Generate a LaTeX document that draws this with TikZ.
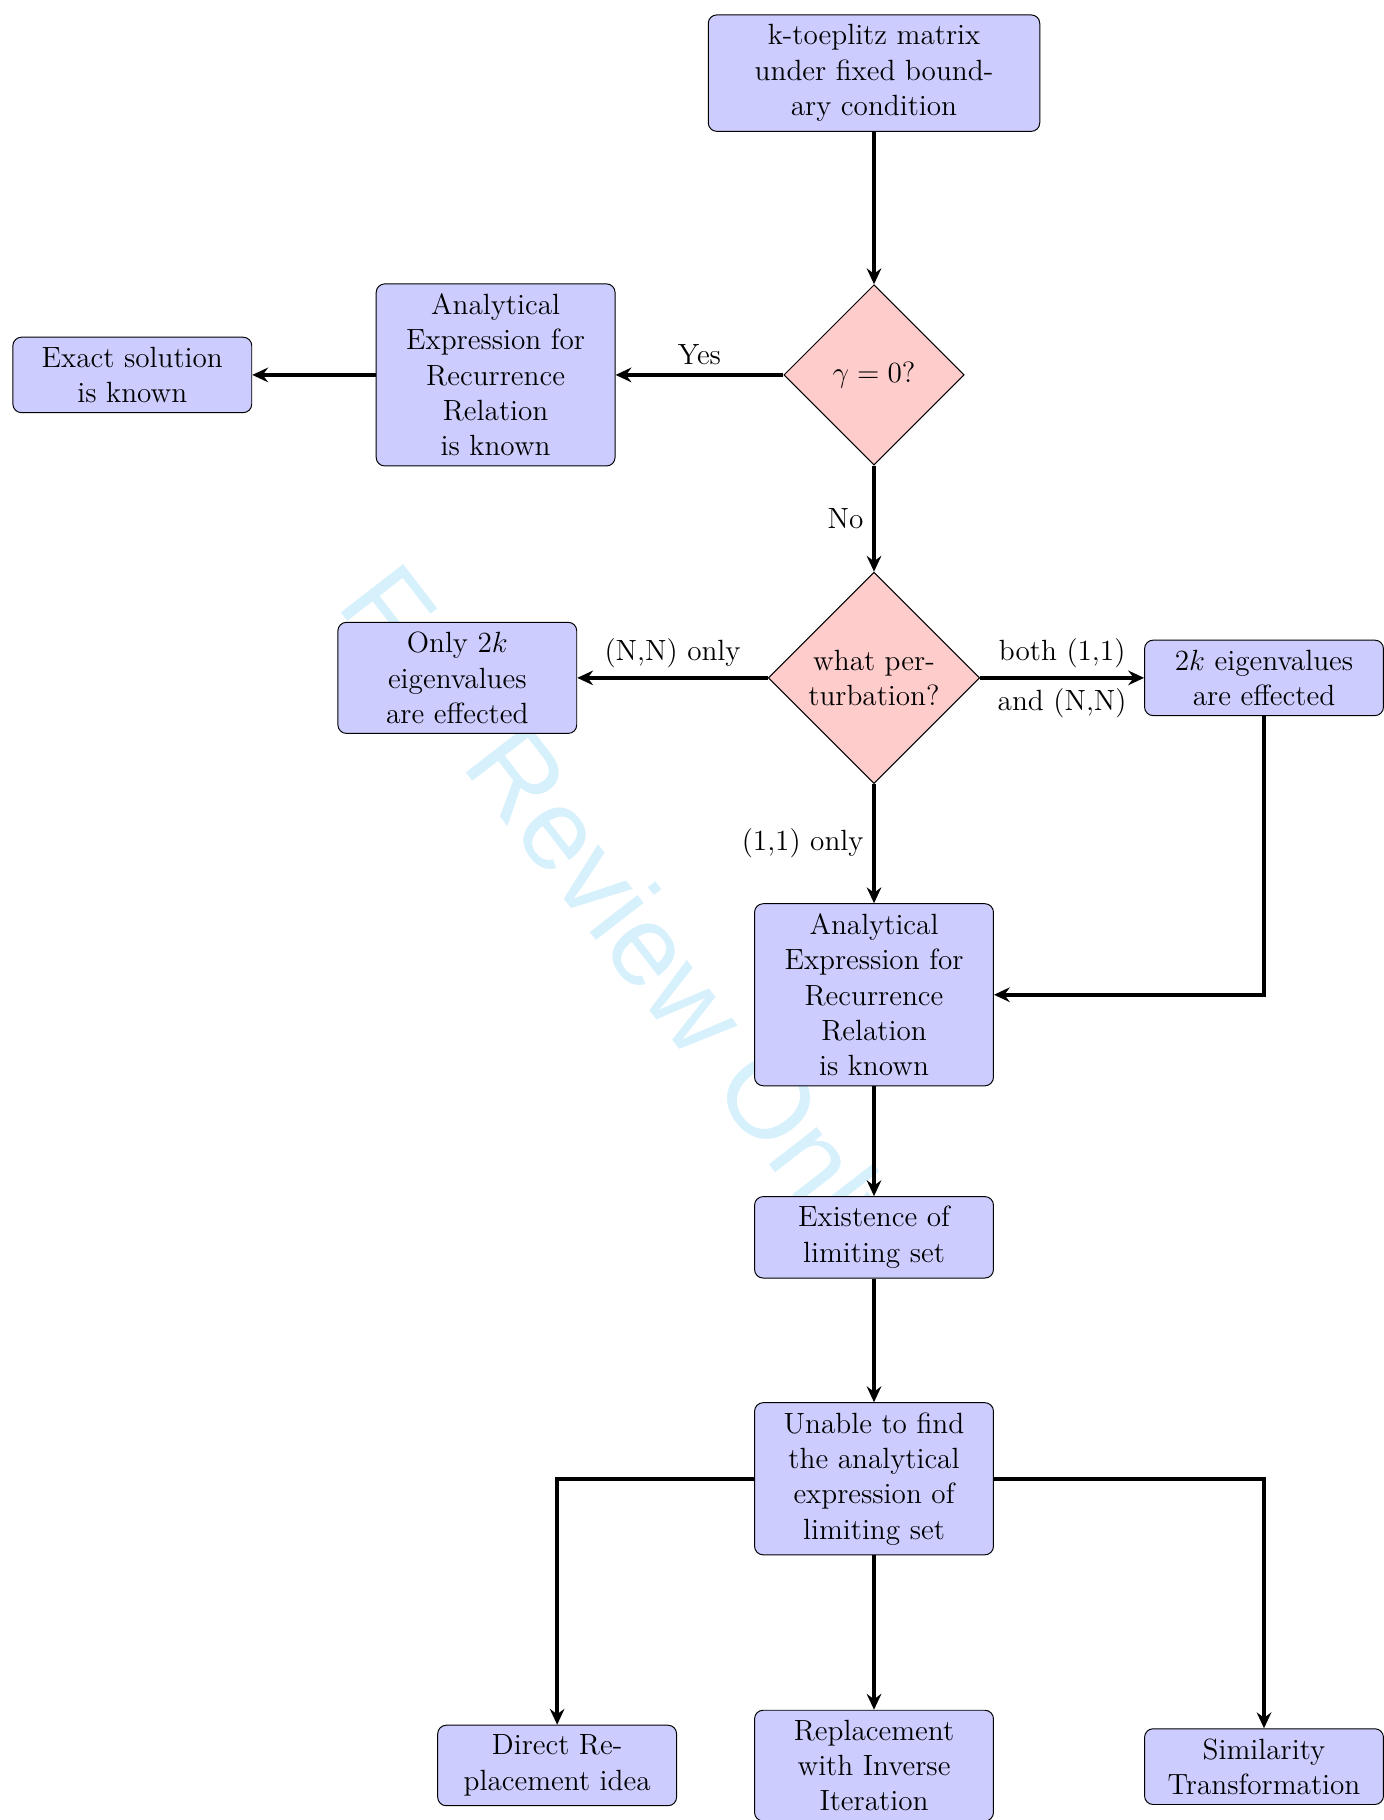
\documentclass[tikz,border=0pt]{standalone}
\usepackage{fontspec}
\newfontfamily\wmfont{Liberation Sans}
\usetikzlibrary{shapes.geometric,arrows.meta}
\definecolor{wmcol}{RGB}{214,240,252}
\tikzset{
  every node/.style={font=\fontsize{12}{14.5}\selectfont},
  box/.style={rectangle, rounded corners=3.5pt, draw=black, line width=0.4pt, fill=blue!20, align=center, minimum width=98pt, inner sep=4pt},
  dec/.style={diamond, draw=black, line width=0.4pt, fill=red!20, align=center, inner sep=1pt},
  conn/.style={line width=1.6pt, -{Stealth[length=6.5pt,width=6pt,inset=2.2pt]}},
  lab/.style={inner sep=3.5pt},
  wm/.style={text=wmcol, inner sep=0pt, font=\wmfont\fontsize{47}{56}\selectfont}
}
\begin{document}
\begin{tikzpicture}[x=0.47619pt, y=-0.47619pt]
\useasboundingbox (0,0) rectangle (1192,1568);
% watermark
\node[wm, rotate=-52.2, anchor=base west] (wmark) at (289,521) {For Review Only};
% nodes
\node[box, minimum width=136pt] (top) at (753,63) {k-toeplitz matrix\\under fixed bound-\\ary condition};
\node[dec, minimum width=74pt, minimum height=74pt] (d1) at (753,323) {$\gamma=0$?};
\node[box] (an1) at (427,323) {Analytical\\Expression for\\Recurrence\\Relation\\is known};
\node[box] (exact) at (114,323) {Exact solution\\is known};
\node[dec, minimum width=86.7pt, minimum height=86.7pt] (d2) at (753,584) {what per-\\turbation?};
\node[box] (only) at (394,584) {Only $2k$\\eigenvalues\\are effected};
\node[box] (eig) at (1089,584) {$2k$ eigenvalues\\are effected};
\node[box] (an2) at (753,857) {Analytical\\Expression for\\Recurrence\\Relation\\is known};
\node[box] (exist) at (753,1066) {Existence of\\limiting set};
\node[box] (unable) at (753,1274) {Unable to find\\the analytical\\expression of\\limiting set};
\node[box] (direct) at (480,1521) {Direct Re-\\placement idea};
\node[box, anchor=north] (repl) at (753,1473) {Replacement\\with Inverse\\Iteration};
\node[box] (sim) at (1089,1522) {Similarity\\Transformation};
% connectors
\draw[conn] (top) -- (d1);
\draw[conn] (d1) -- node[lab, above] {Yes} (an1);
\draw[conn] (an1) -- (exact);
\draw[conn] (d1) -- node[lab, left] {No} (d2);
\draw[conn] (d2) -- node[lab, above] {(N,N) only} (only);
\draw[conn] (d2) -- node[lab, above] {both (1,1)} node[lab, below] {and (N,N)} (eig);
\draw[conn] (d2) -- node[lab, left] {(1,1) only} (an2);
\draw[conn] (eig) |- (an2);
\draw[conn] (an2) -- (exist);
\draw[conn] (exist) -- (unable);
\draw[conn] (unable) -| (direct);
\draw[conn] (unable) -- (repl);
\draw[conn] (unable) -| (sim);
\end{tikzpicture}
\end{document}
